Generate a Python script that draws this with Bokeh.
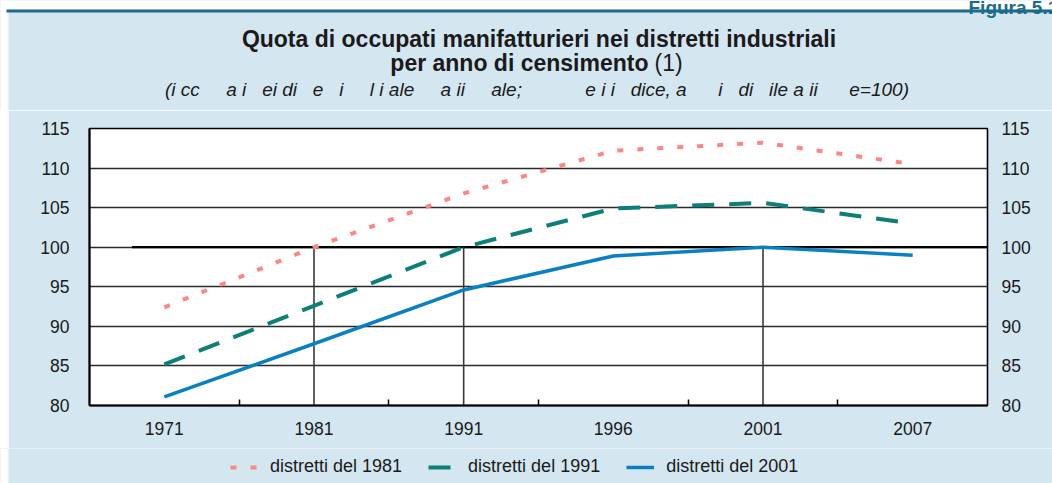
from bokeh.plotting import figure
from bokeh.models import (Range1d, FixedTicker, LinearAxis, Legend, LegendItem, Spacer)
from bokeh.layouts import column, row
from bokeh.core.properties import value
from bokeh.embed import file_html
from bokeh.resources import INLINE

# ---- data ----
years = ["1971", "1981", "1991", "1996", "2001", "2007"]
distretti_1981 = [92.4, 100.0, 106.8, 112.2, 113.2, 110.5]
distretti_1991 = [85.2, 92.6, 100.0, 104.9, 105.6, 103.0]
distretti_2001 = [81.1, 87.8, 94.6, 98.9, 100.0, 99.0]
y_ticks = [80, 85, 90, 95, 100, 105, 110, 115]
ref_years = ["1981", "1991", "2001"]
series_labels = ["distretti del 1981", "distretti del 1991", "distretti del 2001"]

figure_tag = "Figura 5.1"
title1 = "Quota di occupati manifatturieri nei distretti industriali"
title2 = "per anno di censimento"
title2b = "(1)"
NB = "\u00a0"
subtitle = ("(i cc" + NB*5 + "a i" + NB*3 + "ei di" + NB*3 + "e" + NB*3 + "i" + NB*5 + "l i ale" + NB*5 +
            "a ii" + NB*5 + "ale;" + NB*12 + "e i i" + NB*3 + "dice, a" + NB*6 + "i" + NB*3 + "di" + NB*3 +
            "ile a ii" + NB*6 + "e=100)")

PANEL = "#d4e6f0"
RULE = "#1d6b8c"
PINK = "#ff8585"
TEAL = "#0b7f78"
BLUE = "#0a80c4"
TXT = "#1a1a1a"
FONT = "Liberation Sans"

W = 1052
TOP_H = 110
BOT_H = 35
H = 483 - TOP_H - BOT_H

# ---- header strip (page pixel coordinates) ----
top = figure(width=W, height=TOP_H, toolbar_location=None, output_backend="svg",
             min_border=0, x_axis_type=None, y_axis_type=None,
             x_range=Range1d(0, W), y_range=Range1d(TOP_H, 0),
             border_fill_color=PANEL, background_fill_color=PANEL, outline_line_color=None)
top.frame_align = False
top.grid.visible = False
top.quad(left=[0], right=[W], top=[0], bottom=[9], fill_color="white", line_color=None)
top.quad(left=[0], right=[8], top=[0], bottom=[TOP_H], fill_color="white", line_color=None)
top.quad(left=[6], right=[W], top=[9], bottom=[12], fill_color=RULE, line_color=None)
top.text(x=[968], y=[7], text=[figure_tag], text_font=value(FONT), text_font_size="19px",
         text_font_style="bold", text_color=RULE, text_align="left", text_baseline="alphabetic")
top.text(x=[538.5], y=[38], text=[title1], text_font=value(FONT), text_font_size="23px",
         text_font_style="bold", text_color=TXT, text_align="center", text_baseline="middle")
top.text(x=[648], y=[62], text=[title2], text_font=value(FONT), text_font_size="23px",
         text_font_style="bold", text_color=TXT, text_align="right", text_baseline="middle")
top.text(x=[654], y=[62], text=[title2b], text_font=value(FONT), text_font_size="23px",
         text_font_style="normal", text_color=TXT, text_align="left", text_baseline="middle")
top.text(x=[536.5], y=[89], text=[subtitle], text_font=value(FONT), text_font_size="19px",
         text_font_style="italic", text_color=TXT, text_align="center", text_baseline="middle")

# ---- chart ----
xs = list(range(len(years)))
p = figure(width=W - 8, height=H, toolbar_location=None, output_backend="svg",
           x_range=Range1d(-0.5, len(years) - 0.5), y_range=Range1d(80, 115),
           min_border_left=81, min_border_right=65, min_border_top=18, min_border_bottom=43,
           border_fill_color=PANEL, background_fill_color="white",
           outline_line_color="black", outline_line_width=1.6,
           x_axis_location=None, y_axis_location=None)
p.frame_align = False

xaxis = LinearAxis(ticker=FixedTicker(ticks=xs, minor_ticks=[i + 0.5 for i in xs[:-1]]),
                   major_label_overrides={i: y for i, y in enumerate(years)})
xaxis.major_tick_in = 0
xaxis.major_tick_out = 0
xaxis.minor_tick_in = 6
xaxis.minor_tick_out = 0
xaxis.minor_tick_line_color = "black"
xaxis.minor_tick_line_width = 1.5
xaxis.axis_line_color = "black"
xaxis.axis_line_width = 2
xaxis.major_label_standoff = 16
xaxis.major_label_text_font = FONT
xaxis.major_label_text_font_size = "17.5px"
xaxis.major_label_text_color = TXT
p.add_layout(xaxis, "below")

for side, standoff in (("left", 20), ("right", 14)):
    ax = LinearAxis(ticker=FixedTicker(ticks=y_ticks))
    ax.major_tick_in = 0
    ax.major_tick_out = 0
    ax.minor_tick_line_color = None
    ax.axis_line_color = "black" if side == "left" else None
    ax.axis_line_width = 2
    ax.major_label_standoff = standoff
    ax.major_label_text_font = FONT
    ax.major_label_text_font_size = "17.5px"
    ax.major_label_text_color = TXT
    p.add_layout(ax, side)

p.xgrid.visible = False
p.ygrid.ticker = FixedTicker(ticks=y_ticks[1:-1])
p.ygrid.grid_line_color = "#2a2a2a"
p.ygrid.grid_line_width = 1.3

p.segment(x0=-0.5 + 0.283, y0=100, x1=len(years) - 0.5, y1=100, line_color="black", line_width=2.2)
rx = [years.index(y) for y in ref_years]
p.segment(x0=rx, y0=[80] * len(rx), x1=rx, y1=[100] * len(rx), line_color="#3a3a3a", line_width=1.6)

styles = [dict(line_color=PINK, line_width=4, line_dash="6 14"),
          dict(line_color=TEAL, line_width=4, line_dash="22 15"),
          dict(line_color=BLUE, line_width=3.5)]
for vals, st in zip([distretti_1981, distretti_1991, distretti_2001], styles):
    p.line(xs, vals, **st)

# ---- legend strip (legend keys reuse the series styles; their own marks lie off-range) ----
bot = figure(width=W, height=BOT_H, toolbar_location=None, output_backend="svg",
             min_border=0, x_axis_type=None, y_axis_type=None,
             x_range=Range1d(0, W), y_range=Range1d(0, BOT_H),
             border_fill_color=PANEL, background_fill_color=PANEL, outline_line_color=None)
bot.frame_align = False
bot.grid.visible = False
bot.quad(left=[0], right=[8], top=[0], bottom=[BOT_H], fill_color="white", line_color=None)
proxies = [bot.line(x=[-20, -10], y=[-20, -20], **st) for st in styles]
legend = Legend(items=[LegendItem(label=lab, renderers=[r]) for lab, r in zip(series_labels, proxies)],
                orientation="horizontal", location=(230, 6),
                glyph_width=28, glyph_height=20, label_height=20, label_standoff=12, spacing=26,
                padding=0, margin=0, background_fill_alpha=0, border_line_color=None,
                label_text_font=FONT, label_text_font_size="18px", label_text_color=TXT)
bot.add_layout(legend, "center")

mid = row(Spacer(width=8, height=H, styles={"background-color": "white"}), p, spacing=0)
layout = column(top, mid, bot, spacing=0)
open("out.html", "w").write(file_html(layout, INLINE))
